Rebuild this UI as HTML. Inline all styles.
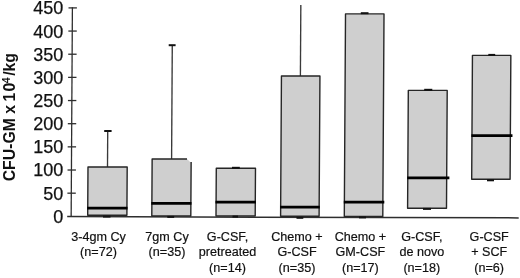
<!DOCTYPE html>
<html><head><meta charset="utf-8"><title>CFU-GM box plot</title><style>
html,body{margin:0;padding:0;background:#fff;width:520px;height:278px;overflow:hidden;}
svg{display:block;will-change:transform;font-family:"Liberation Sans",sans-serif;fill:#111;}
</style></head><body>
<svg width="520" height="278" viewBox="0 0 520 278">
<rect width="520" height="278" fill="#fff"/>
<line x1="72.40" y1="7.3" x2="71.15" y2="217" stroke="#2e2e2e" stroke-width="1.3"/>
<line x1="67.2" y1="216.6" x2="518.7" y2="217.9" stroke="#2e2e2e" stroke-width="1.5"/>
<line x1="68.50" y1="7.90" x2="76.90" y2="7.90" stroke="#2e2e2e" stroke-width="1.3"/>
<line x1="68.36" y1="31.06" x2="76.76" y2="31.06" stroke="#2e2e2e" stroke-width="1.3"/>
<line x1="68.22" y1="54.22" x2="76.62" y2="54.22" stroke="#2e2e2e" stroke-width="1.3"/>
<line x1="68.08" y1="77.38" x2="76.48" y2="77.38" stroke="#2e2e2e" stroke-width="1.3"/>
<line x1="67.94" y1="100.54" x2="76.34" y2="100.54" stroke="#2e2e2e" stroke-width="1.3"/>
<line x1="67.81" y1="123.70" x2="76.21" y2="123.70" stroke="#2e2e2e" stroke-width="1.3"/>
<line x1="67.67" y1="146.86" x2="76.07" y2="146.86" stroke="#2e2e2e" stroke-width="1.3"/>
<line x1="67.53" y1="170.02" x2="75.93" y2="170.02" stroke="#2e2e2e" stroke-width="1.3"/>
<line x1="67.39" y1="193.18" x2="75.79" y2="193.18" stroke="#2e2e2e" stroke-width="1.3"/>
<text x="63.2" y="14.34" text-anchor="end" font-size="18.0" stroke="#111" stroke-width="0.25">450</text>
<text x="63.2" y="37.50" text-anchor="end" font-size="18.0" stroke="#111" stroke-width="0.25">400</text>
<text x="63.2" y="60.66" text-anchor="end" font-size="18.0" stroke="#111" stroke-width="0.25">350</text>
<text x="63.2" y="83.82" text-anchor="end" font-size="18.0" stroke="#111" stroke-width="0.25">300</text>
<text x="63.2" y="106.98" text-anchor="end" font-size="18.0" stroke="#111" stroke-width="0.25">250</text>
<text x="63.2" y="130.14" text-anchor="end" font-size="18.0" stroke="#111" stroke-width="0.25">200</text>
<text x="63.2" y="153.30" text-anchor="end" font-size="18.0" stroke="#111" stroke-width="0.25">150</text>
<text x="63.2" y="176.46" text-anchor="end" font-size="18.0" stroke="#111" stroke-width="0.25">100</text>
<text x="63.2" y="199.62" text-anchor="end" font-size="18.0" stroke="#111" stroke-width="0.25">50</text>
<text x="63.2" y="223.04" text-anchor="end" font-size="18.0" stroke="#111" stroke-width="0.25">0</text>
<line x1="107.72" y1="131.0" x2="107.50" y2="167.0" stroke="#3a3a3a" stroke-width="1.35"/>
<polygon points="87.7,215.3 87.99,167.0 127.19,167.0 126.9,215.3" fill="#cfcfcf" stroke="#262626" stroke-width="1.4" stroke-linejoin="round"/>
<line x1="87.14" y1="208.1" x2="127.54" y2="208.1" stroke="#000" stroke-width="2.8"/>
<line x1="104.2" y1="131.0" x2="111.6" y2="131.0" stroke="#111" stroke-width="2"/>
<line x1="103.0" y1="216.6" x2="110.5" y2="216.6" stroke="#111" stroke-width="2"/>
<line x1="172.28" y1="45.2" x2="171.60" y2="159.0" stroke="#3a3a3a" stroke-width="1.35"/>
<polygon points="151.8,216.0 152.14,159.0 187.0,159.0 190.14,162.0 191.14,162.0 190.8,216.0" fill="#cfcfcf"/>
<polyline points="187.0,159.0 152.14,159.0 151.8,216.0 190.8,216.0 191.14,162.0" fill="none" stroke="#262626" stroke-width="1.4" stroke-linejoin="round"/>
<line x1="151.28" y1="203.3" x2="191.48" y2="203.3" stroke="#000" stroke-width="2.8"/>
<line x1="168.7" y1="45.2" x2="175.6" y2="45.2" stroke="#111" stroke-width="2"/>
<line x1="167.3" y1="216.9" x2="174.2" y2="216.9" stroke="#111" stroke-width="2"/>
<polygon points="216.0,216.0 216.29,168.3 255.49,168.3 255.2,216.0" fill="#cfcfcf" stroke="#262626" stroke-width="1.4" stroke-linejoin="round"/>
<line x1="215.48" y1="202.1" x2="255.88" y2="202.1" stroke="#000" stroke-width="2.8"/>
<line x1="232.0" y1="167.8" x2="239.8" y2="167.8" stroke="#111" stroke-width="2"/>
<line x1="232.5" y1="216.6" x2="238.0" y2="216.6" stroke="#111" stroke-width="2"/>
<line x1="300.83" y1="5.0" x2="300.40" y2="76.0" stroke="#3a3a3a" stroke-width="1.35"/>
<polygon points="280.6,216.2 281.44,76.0 319.94,76.0 319.1,216.2" fill="#cfcfcf" stroke="#262626" stroke-width="1.4" stroke-linejoin="round"/>
<line x1="280.05" y1="207.1" x2="319.75" y2="207.1" stroke="#000" stroke-width="2.8"/>
<line x1="296.5" y1="217.8" x2="303.3" y2="217.8" stroke="#111" stroke-width="2"/>
<polygon points="344.3,216.4 345.51,13.9 384.01,13.9 382.8,216.4" fill="#cfcfcf" stroke="#262626" stroke-width="1.4" stroke-linejoin="round"/>
<line x1="343.79" y1="202.2" x2="384.29" y2="202.2" stroke="#000" stroke-width="2.8"/>
<line x1="360.8" y1="13.2" x2="368.5" y2="13.2" stroke="#111" stroke-width="2"/>
<line x1="359.0" y1="217.4" x2="366.0" y2="217.4" stroke="#111" stroke-width="2"/>
<polygon points="407.6,208.2 408.31,90.4 447.21,90.4 446.5,208.2" fill="#cfcfcf" stroke="#262626" stroke-width="1.4" stroke-linejoin="round"/>
<line x1="407.18" y1="177.8" x2="449.38" y2="177.8" stroke="#000" stroke-width="2.8"/>
<line x1="424.2" y1="89.8" x2="432.3" y2="89.8" stroke="#111" stroke-width="2"/>
<line x1="423.0" y1="208.9" x2="431.0" y2="208.9" stroke="#111" stroke-width="2"/>
<polygon points="471.7,179.3 472.44,55.4 510.84,55.4 510.1,179.3" fill="#cfcfcf" stroke="#262626" stroke-width="1.4" stroke-linejoin="round"/>
<line x1="471.36" y1="135.6" x2="512.46" y2="135.6" stroke="#000" stroke-width="2.8"/>
<line x1="488.3" y1="54.9" x2="495.2" y2="54.9" stroke="#111" stroke-width="2"/>
<line x1="487.0" y1="180.3" x2="494.0" y2="180.3" stroke="#111" stroke-width="2"/>
<text x="98.5" y="240.5" text-anchor="middle" font-size="12.6" stroke="#111" stroke-width="0.2">3-4gm Cy</text>
<text x="98.5" y="256.0" text-anchor="middle" font-size="12.6" stroke="#111" stroke-width="0.2">(n=72)</text>
<text x="167.0" y="240.5" text-anchor="middle" font-size="12.6" stroke="#111" stroke-width="0.2">7gm Cy</text>
<text x="167.0" y="256.0" text-anchor="middle" font-size="12.6" stroke="#111" stroke-width="0.2">(n=35)</text>
<text x="227.5" y="240.5" text-anchor="middle" font-size="12.6" stroke="#111" stroke-width="0.2">G-CSF,</text>
<text x="227.5" y="256.0" text-anchor="middle" font-size="12.6" stroke="#111" stroke-width="0.2">pretreated</text>
<text x="227.5" y="272.0" text-anchor="middle" font-size="12.6" stroke="#111" stroke-width="0.2">(n=14)</text>
<text x="297.0" y="240.5" text-anchor="middle" font-size="12.6" stroke="#111" stroke-width="0.2">Chemo +</text>
<text x="297.0" y="256.0" text-anchor="middle" font-size="12.6" stroke="#111" stroke-width="0.2">G-CSF</text>
<text x="297.0" y="272.0" text-anchor="middle" font-size="12.6" stroke="#111" stroke-width="0.2">(n=35)</text>
<text x="360.4" y="240.5" text-anchor="middle" font-size="12.6" stroke="#111" stroke-width="0.2">Chemo +</text>
<text x="360.4" y="256.0" text-anchor="middle" font-size="12.6" stroke="#111" stroke-width="0.2">GM-CSF</text>
<text x="360.4" y="272.0" text-anchor="middle" font-size="12.6" stroke="#111" stroke-width="0.2">(n=17)</text>
<text x="421.8" y="240.5" text-anchor="middle" font-size="12.6" stroke="#111" stroke-width="0.2">G-CSF,</text>
<text x="421.8" y="256.0" text-anchor="middle" font-size="12.6" stroke="#111" stroke-width="0.2">de novo</text>
<text x="421.8" y="272.0" text-anchor="middle" font-size="12.6" stroke="#111" stroke-width="0.2">(n=18)</text>
<text x="489.2" y="240.5" text-anchor="middle" font-size="12.6" stroke="#111" stroke-width="0.2">G-CSF</text>
<text x="489.2" y="256.0" text-anchor="middle" font-size="12.6" stroke="#111" stroke-width="0.2">+ SCF</text>
<text x="489.2" y="272.0" text-anchor="middle" font-size="12.6" stroke="#111" stroke-width="0.2">(n=6)</text>
<text transform="translate(15.2,181.3) rotate(-90)" font-size="15.8" font-weight="bold">CFU-GM<tspan dx="0.0"> x </tspan><tspan dx="-1.0">1</tspan><tspan dx="1.2">0</tspan><tspan font-size="10.6" dy="-5.2" dx="-0.5">4</tspan><tspan dy="5.2" dx="1.5">/kg</tspan></text>
</svg>
</body></html>
